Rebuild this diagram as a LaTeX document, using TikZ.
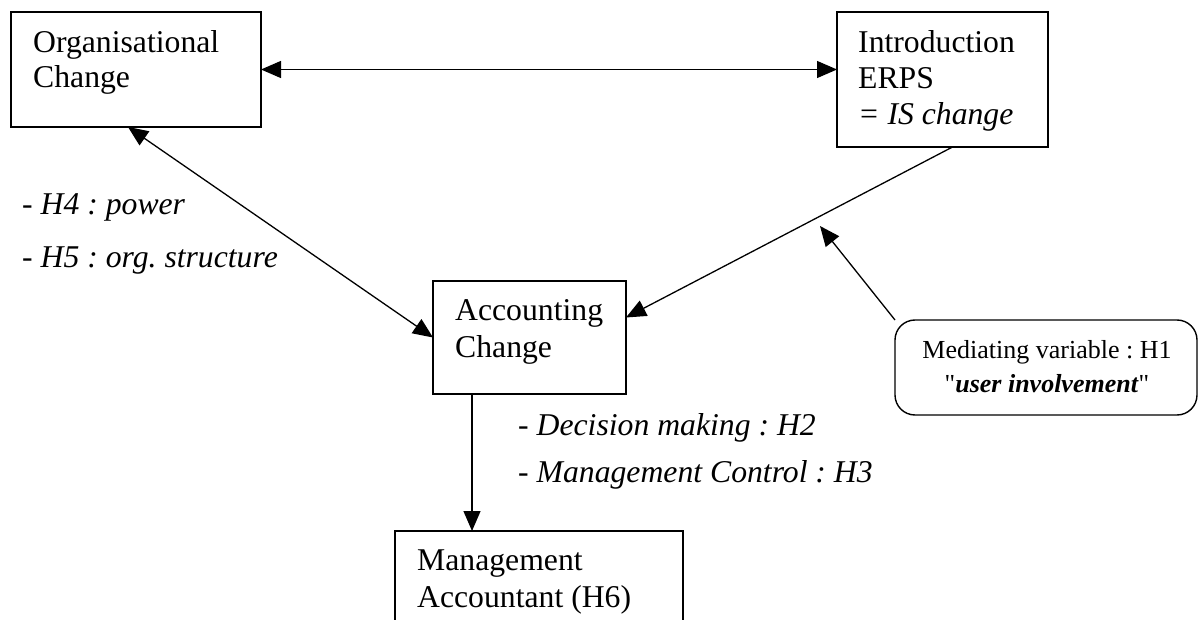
\documentclass[tikz,border=0pt]{standalone}
\usepackage{fontspec}
\setmainfont{Liberation Serif}
\newfontfamily\plainq{Liberation Serif}[Ligatures=TeXOff]
\usetikzlibrary{arrows.meta,calc}
\begin{document}
\frenchspacing
\begin{tikzpicture}[x=1pt,y=-1pt,
  box/.style={draw,line width=1.4pt,inner sep=0pt,outer sep=0pt,anchor=north west},
  txt/.style={anchor=base west,inner sep=0pt,font=\fontsize{31.7}{36}\selectfont},
  itxt/.style={anchor=base west,inner sep=0pt,font=\fontsize{31.7}{36}\selectfont\itshape},
  medtxt/.style={anchor=base,inner sep=0pt,font=\fontsize{26}{30}\selectfont},
  conn/.style={line width=1.3pt,-{Triangle[length=20pt,width=17pt]}},
  dconn/.style={line width=1.3pt,{Triangle[length=20pt,width=17pt]}-{Triangle[length=20pt,width=17pt]}}]
\useasboundingbox (0,0) rectangle (1199,620);
\clip (0,0) rectangle (1199,620);
\fill[white] (0,0) rectangle (1199,620);
% boxes
\node[box,minimum width=250pt,minimum height=115pt] (org) at (11,12) {};
\node[box,minimum width=211pt,minimum height=135pt] (intro) at (837,12) {};
\node[box,minimum width=193pt,minimum height=113pt] (acc) at (433,281) {};
\node[box,minimum width=288pt,minimum height=120pt] (ma) at (395,531) {};
\node[box,rounded corners=20pt,minimum width=302pt,minimum height=95pt] (med) at (895,320) {};
% box texts
\node[txt] (orgA) at (33,53) {Organisational};
\node[txt] (orgB) at (33,88) {Change};
\node[txt] (introA) at (858,53) {Introduction};
\node[txt] (introB) at (858,89) {ERPS};
\node[itxt] (introC) at (858,125) {= IS change};
\node[txt] (accA) at (455,320) {Accounting};
\node[txt] (accB) at (455,357) {Change};
\node[txt] (maA) at (417,570) {Management};
\node[txt] (maB) at (417,607) {Accountant (H6)};
\node[medtxt] (medA) at (1047,358) {Mediating variable : H1};
\node[medtxt] (medB) at (1047,392) {{\plainq"}\textbf{\textit{user involvement}}{\plainq"}};
% labels
\node[itxt] (h4) at (22,215) {- H4 : power};
\node[itxt] (h5) at (22,268) {- H5 : org. structure};
\node[itxt] (h2) at (518,435) {- Decision making : H2};
\node[itxt] (h3) at (518,482) {- Management Control : H3};
% connectors
\draw[dconn] (org.east) -- (org.east -| intro.west);
\draw[dconn] ([xshift=117pt]org.south west) -- (acc.west);
\draw[conn] ([xshift=10pt]intro.south) -- ([yshift=20pt]acc.east);
\coordinate (tip) at (820,226);
\draw[conn] (med.north west) -- (tip);
\draw[conn] ([xshift=39pt]acc.south west) -- ([xshift=39pt]acc.south west |- ma.north);
\end{tikzpicture}
\end{document}
